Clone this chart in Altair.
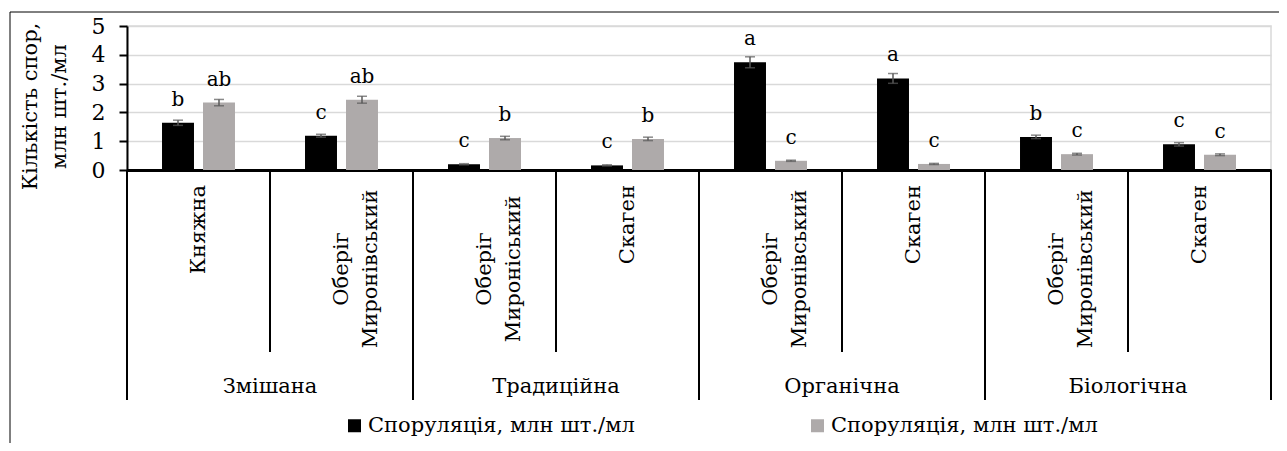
import altair as alt
import pandas as pd

# ---- data ----
GROUPS = ["Змішана", "Змішана", "Традиційна", "Традиційна",
          "Органічна", "Органічна", "Біологічна", "Біологічна"]
VARIETIES = ["Княжна", "Оберіг\nМиронівський", "Оберіг\nМироніський", "Скаген",
             "Оберіг\nМиронівський", "Скаген", "Оберіг\nМиронівський", "Скаген"]
SERIES_IDS = ["s1", "s2"]
SERIES_LABEL = "Споруляція, млн шт./мл"
S1_VALUES = [1.64, 1.19, 0.20, 0.16, 3.74, 3.18, 1.15, 0.89]
S1_ERR = [0.09, 0.05, 0.02, 0.02, 0.19, 0.17, 0.06, 0.06]
S1_LETTERS = ["b", "c", "c", "c", "a", "a", "b", "c"]
S2_VALUES = [2.34, 2.44, 1.11, 1.08, 0.32, 0.21, 0.55, 0.53]
S2_ERR = [0.11, 0.12, 0.06, 0.06, 0.02, 0.02, 0.03, 0.03]
S2_LETTERS = ["ab", "ab", "b", "b", "c", "c", "c", "c"]
Y_TICKS = [0, 1, 2, 3, 4, 5]
Y_TITLE = ["Кількість спор,", "млн шт./мл"]

FONT = "DejaVu Serif"
FS = 21
W, H = 1144, 144

cells = [f"{i}" for i in range(len(GROUPS))]
rows = []
for i, c in enumerate(cells):
    for sid, vals, errs, lets in [("s1", S1_VALUES, S1_ERR, S1_LETTERS),
                                  ("s2", S2_VALUES, S2_ERR, S2_LETTERS)]:
        rows.append(dict(cell=c, series=sid, value=vals[i],
                         lo=vals[i] - errs[i], hi=vals[i] + errs[i],
                         letter=lets[i]))
df = pd.DataFrame(rows)

cat_df = pd.DataFrame(dict(cell=cells, group=GROUPS, variety=VARIETIES))
cat_df["multi"] = cat_df["variety"].str.contains("\n")
cat_df["first_in_group"] = [i % 2 == 0 for i in range(len(cells))]

xscale = alt.Scale(domain=cells, paddingInner=0, paddingOuter=0)
xoff = alt.XOffset("series:N", scale=alt.Scale(domain=SERIES_IDS, paddingInner=0.22, paddingOuter=0.854))
yscale = alt.Scale(domain=[0, 5], nice=False)


def xe(**kw):
    return alt.X("cell:N", scale=xscale, title=None, **kw)


def ye(field):
    return alt.Y(field, scale=yscale, title=Y_TITLE, axis=alt.Axis(values=Y_TICKS))


bars = alt.Chart(df).mark_bar().encode(
    x=xe(),
    xOffset=xoff,
    y=ye("value:Q"),
    color=alt.Color("series:N", scale=alt.Scale(domain=SERIES_IDS, range=["#000000", "#aeaaaa"]),
                    legend=alt.Legend(orient="none", legendX=217, legendY=389, direction="horizontal",
                                      title=None, symbolType="square", symbolSize=169,
                                      symbolStrokeWidth=0, labelFont=FONT, labelFontSize=FS,
                                      labelColor="black", labelLimit=600, columnPadding=172,
                                      labelOffset=3, padding=0,
                                      labelExpr=f"'{SERIES_LABEL}'")),
)

err = alt.Chart(df).mark_rule(color="#595959", strokeWidth=1.5).encode(
    x=xe(), xOffset=xoff, y=ye("lo:Q"), y2="hi:Q")
cap_lo = alt.Chart(df).mark_tick(color="#595959", thickness=1.5, size=10).encode(
    x=xe(), xOffset=xoff, y=ye("lo:Q"))
cap_hi = alt.Chart(df).mark_tick(color="#595959", thickness=1.5, size=10).encode(
    x=xe(), xOffset=xoff, y=ye("hi:Q"))

letters = alt.Chart(df).mark_text(font=FONT, fontSize=20, color="black", baseline="alphabetic",
                                  dy=-17).encode(
    x=xe(), xOffset=xoff, y=ye("value:Q"), text="letter:N")

# lower hierarchical axis
inner_sep = alt.Chart(cat_df).transform_filter("!datum.first_in_group").mark_rule(
    color="black", strokeWidth=2).encode(
    x=xe(bandPosition=0), y=alt.value(H), y2=alt.value(H + 182))
group_sep = alt.Chart(cat_df).transform_filter("datum.first_in_group").mark_rule(
    color="black", strokeWidth=2).encode(
    x=xe(bandPosition=0), y=alt.value(H), y2=alt.value(H + 230))
end_sep = alt.Chart(cat_df.tail(1)).mark_rule(color="black", strokeWidth=2).encode(
    x=xe(bandPosition=1), y=alt.value(H), y2=alt.value(H + 230))

single_lab = alt.Chart(cat_df).transform_filter("!datum.multi").mark_text(
    font=FONT, fontSize=FS, color="black", angle=270, align="right", baseline="middle").encode(
    x=xe(), y=alt.value(H + 15), text="variety:N")
multi_lab = alt.Chart(cat_df).transform_filter("datum.multi").mark_text(
    font=FONT, fontSize=FS, color="black", angle=270, align="center", baseline="middle",
    lineBreak="\n", lineHeight=29).encode(
    x=xe(), y=alt.value(H + 99), text="variety:N")
group_lab = alt.Chart(cat_df).transform_filter("datum.first_in_group").mark_text(
    font=FONT, fontSize=FS, color="black", baseline="middle").encode(
    x=xe(bandPosition=1), y=alt.value(H + 217), text="group:N")

# chart border (top & left edges)
border_top = alt.Chart(cat_df.head(1)).mark_rule(color="black", strokeWidth=1).encode(
    x=alt.value(-117), x2=alt.value(W + 20), y=alt.value(-14))
border_left = alt.Chart(cat_df.head(1)).mark_rule(color="black", strokeWidth=1).encode(
    x=alt.value(-117), y=alt.value(-14), y2=alt.value(H + 300))

chart = alt.layer(
    bars, err, cap_lo, cap_hi, letters,
    inner_sep, group_sep, end_sep, single_lab, multi_lab, group_lab,
    border_top, border_left,
).properties(
    width=W, height=H,
    autosize=alt.AutoSizeParams(type="none"),
    padding={"left": 119, "top": 18, "right": 8, "bottom": 273},
).configure(font=FONT).configure_view(
    stroke="#d9d9d9", strokeWidth=1.5
).configure_axisX(
    labels=False, ticks=False, domainColor="black", domainWidth=3, grid=False
).configure_axisY(
    titleFont=FONT, titleFontSize=FS, titleFontWeight="normal", titleColor="black",
    titleAngle=270, titleX=-91, titleY=80, titleAlign="center", titleBaseline="alphabetic",
    titleLineHeight=29,
    labelFont=FONT, labelFontSize=22, labelColor="black", labelPadding=14,
    labelOverlap=False, labelBaseline="middle",
    tickSize=8, tickColor="black", tickWidth=2,
    domainColor="black", domainWidth=2,
    grid=True, gridColor="#d9d9d9", gridWidth=1.5,
)

chart.save("out.html", embed_options={"renderer": "svg", "actions": False})
